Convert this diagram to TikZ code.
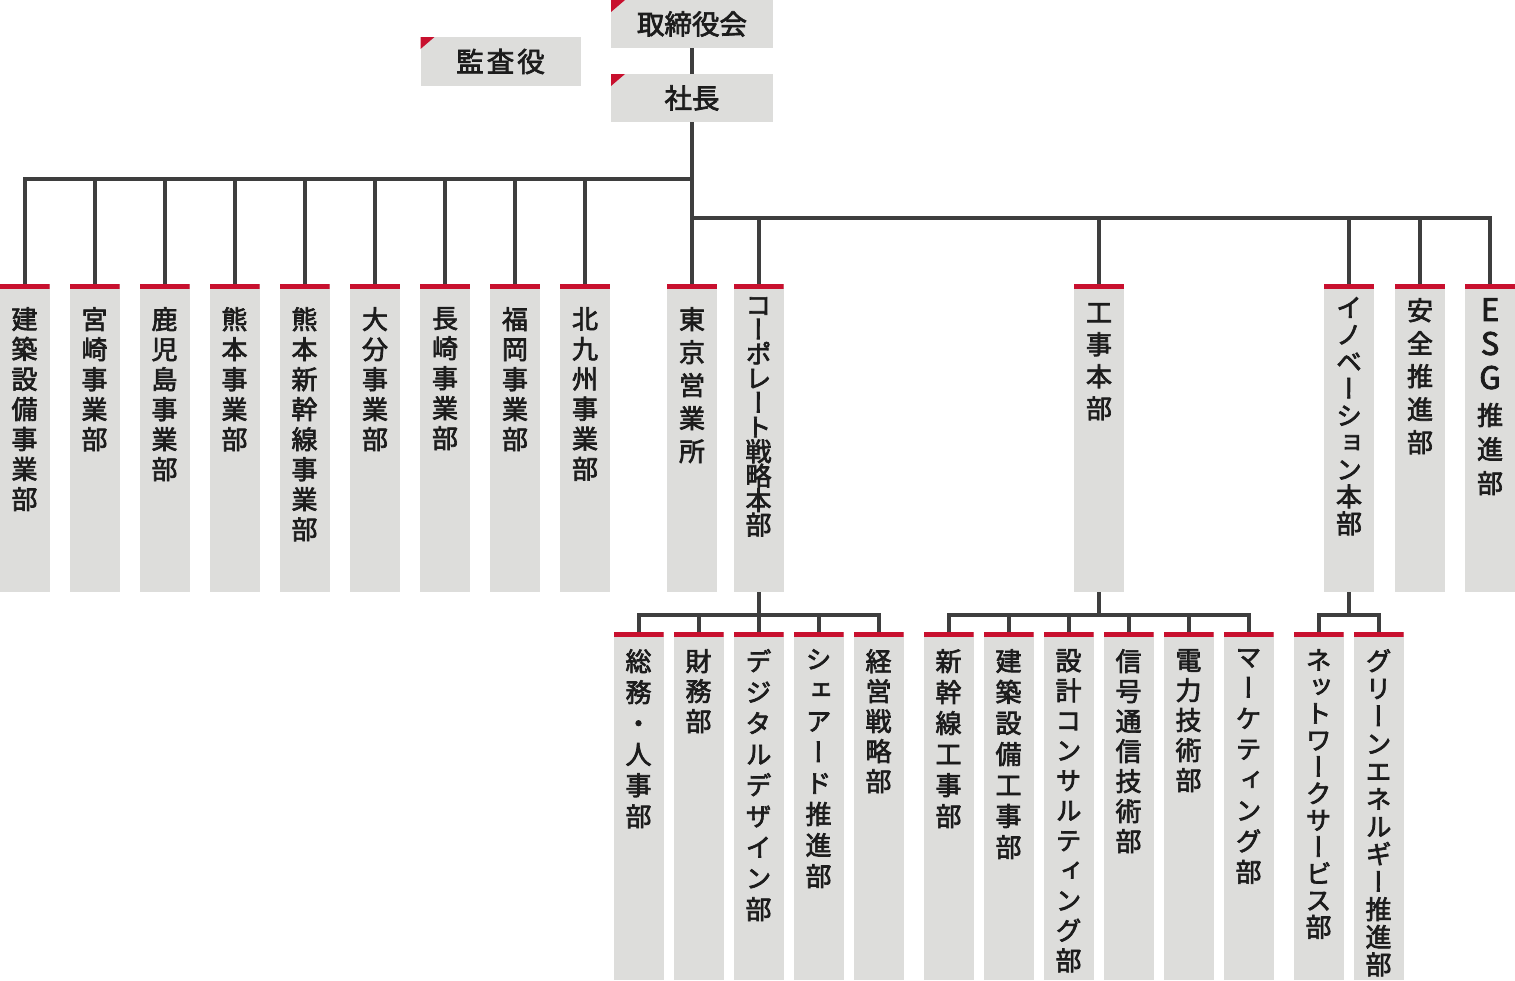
\documentclass[tikz,border=0pt]{standalone}
\usepackage{fontspec}
\newfontfamily\jp[FakeBold=2.6]{Noto Sans CJK JP}
\newfontfamily\vjp[RawFeature={+vert},FakeBold=2.6]{Noto Sans CJK JP}
\newcommand\bigltr[1]{{\fontsize{31pt}{35pt}\selectfont #1}}
\definecolor{boxgray}{RGB}{221,221,219}
\definecolor{jrred}{RGB}{200,16,46}
\definecolor{linegray}{RGB}{62,62,62}
\definecolor{inkblack}{RGB}{28,28,28}
\tikzset{
  conn/.style={draw=linegray,line width=4pt},
  topbox/.style={fill=boxgray,inner sep=0pt,minimum height=48pt,text=inkblack,
    font=\jp\fontsize{27.5pt}{30pt}\selectfont,
    path picture={\fill[jrred] (path picture bounding box.north west) -- ++(14pt,0pt) -- ++(-14pt,-12pt) -- cycle;}},
  dept/.style={fill=boxgray,inner sep=0pt,minimum width=50pt,anchor=north,
    path picture={\fill[jrred] (path picture bounding box.north west) rectangle ([yshift=-5pt]path picture bounding box.north east);}},
  upper/.style={dept,minimum height=308pt},
  lower/.style={dept,minimum height=348pt},
  vtext/.style={anchor=north,align=center,inner sep=0pt,text=inkblack,yshift=-17pt,
    font=\vjp\fontsize{26pt}{#1pt}\selectfont},
  vtext/.default=30
}
\begin{document}
\begin{tikzpicture}[x=1pt,y=-1pt]
\useasboundingbox (0,0) rectangle (1515,980);
% top
\node[topbox,minimum width=162pt] (board) at (692,24) {取締役会};
\node[topbox,minimum width=162pt] (pres) at (692,98) {社長};
\node[topbox,minimum width=160pt,minimum height=49pt] (audit) at (500.5,61.5) {監\kern3pt 査\kern3pt 役};
% first level
\node[upper,label={[vtext,yshift=-6pt]north:建\\築\\設\\備\\事\\業\\部}] (kenchiku) at (24.5,284) {};
\node[upper,label={[vtext,yshift=-6pt]north:宮\\崎\\事\\業\\部}] (miyazaki) at (94.5,284) {};
\node[upper,label={[vtext,yshift=-6pt]north:鹿\\児\\島\\事\\業\\部}] (kagoshima) at (164.5,284) {};
\node[upper,label={[vtext,yshift=-6pt]north:熊\\本\\事\\業\\部}] (kumamoto) at (234.5,284) {};
\node[upper,label={[vtext,yshift=-6pt]north:熊\\本\\新\\幹\\線\\事\\業\\部}] (shinkansen) at (304.5,284) {};
\node[upper,label={[vtext,yshift=-6pt]north:大\\分\\事\\業\\部}] (oita) at (375,284) {};
\node[upper,label={[vtext,yshift=-6pt]north:長\\崎\\事\\業\\部}] (nagasaki) at (445,284) {};
\node[upper,label={[vtext,yshift=-6pt]north:福\\岡\\事\\業\\部}] (fukuoka) at (515,284) {};
\node[upper,label={[vtext,yshift=-6pt]north:北\\九\\州\\事\\業\\部}] (kitakyushu) at (585,284) {};
\node[upper,label={[vtext=33,yshift=-6pt]north:東\\京\\営\\業\\所}] (tokyo) at (692,284) {};
\node[upper,label={[vtext=24.4,yshift=4pt]north:コ\\ー\\ポ\\レ\\ー\\ト\\戦\\略\\本\\部}] (corp) at (758.5,284) {};
\node[upper,label={[vtext=32,yshift=-2pt]north:工\\事\\本\\部}] (koji) at (1099,284) {};
\node[upper,label={[vtext=27,yshift=4pt]north:イ\\ノ\\ベ\\ー\\シ\\ョ\\ン\\本\\部}] (innov) at (1349,284) {};
\node[upper,label={[vtext=33,yshift=3pt]north:安\\全\\推\\進\\部}] (anzen) at (1420,284) {};
\node[upper,label={[vtext=34,yshift=3pt]north:\bigltr{E}\\\bigltr{S}\\\bigltr{G}\\[2pt]推\\進\\部}] (esg) at (1490,284) {};
% second level
\node[lower,label={[vtext=31]north:総\\務\\・\\人\\事\\部}] (soumu) at (638.5,632) {};
\node[lower,label={[vtext]north:財\\務\\部}] (zaimu) at (698.5,632) {};
\node[lower,label={[vtext=31]north:デ\\ジ\\タ\\ル\\デ\\ザ\\イ\\ン\\部}] (digital) at (758.5,632) {};
\node[lower,label={[vtext=31]north:シ\\ェ\\ア\\ー\\ド\\推\\進\\部}] (shared) at (818.5,632) {};
\node[lower,label={[vtext]north:経\\営\\戦\\略\\部}] (keiei) at (878.5,632) {};
\node[lower,label={[vtext=31]north:新\\幹\\線\\工\\事\\部}] (shinkoji) at (948.5,632) {};
\node[lower,label={[vtext=31]north:建\\築\\設\\備\\工\\事\\部}] (kenkoji) at (1008.5,632) {};
\node[lower,label={[vtext]north:設\\計\\コ\\ン\\サ\\ル\\テ\\ィ\\ン\\グ\\部}] (sekkei) at (1068.5,632) {};
\node[lower,label={[vtext]north:信\\号\\通\\信\\技\\術\\部}] (shingo) at (1128.5,632) {};
\node[lower,label={[vtext]north:電\\力\\技\\術\\部}] (denryoku) at (1188.5,632) {};
\node[lower,label={[vtext=30.7]north:マ\\ー\\ケ\\テ\\ィ\\ン\\グ\\部}] (marketing) at (1248.5,632) {};
\node[lower,label={[vtext=26.7]north:ネ\\ッ\\ト\\ワ\\ー\\ク\\サ\\ー\\ビ\\ス\\部}] (network) at (1318.5,632) {};
\node[lower,label={[vtext=27.6]north:グ\\リ\\ー\\ン\\エ\\ネ\\ル\\ギ\\ー\\推\\進\\部}] (green) at (1378.5,632) {};
% connectors
\coordinate (busL) at (692,179);
\coordinate (busR) at (692,218);
\draw[conn] (board.south) -- (pres.north);
\draw[conn] (pres.south) -- (tokyo.north);
\foreach \n in {kenchiku,miyazaki,kagoshima,kumamoto,shinkansen,oita,nagasaki,fukuoka,kitakyushu}
  \draw[conn] (\n.north) |- (busL);
\foreach \n in {corp,koji,innov,anzen,esg}
  \draw[conn] (\n.north) |- (busR);
\draw[conn] (corp.south) -- ++(0,23) coordinate (busC);
\foreach \n in {soumu,zaimu,digital,shared,keiei}
  \draw[conn] (\n.north) |- (busC);
\draw[conn] (koji.south) -- ++(0,23) coordinate (busK);
\foreach \n in {shinkoji,kenkoji,sekkei,shingo,denryoku,marketing}
  \draw[conn] (\n.north) |- (busK);
\draw[conn] (innov.south) -- ++(0,23) coordinate (busI);
\foreach \n in {network,green}
  \draw[conn] (\n.north) |- (busI);
\end{tikzpicture}
\end{document}
